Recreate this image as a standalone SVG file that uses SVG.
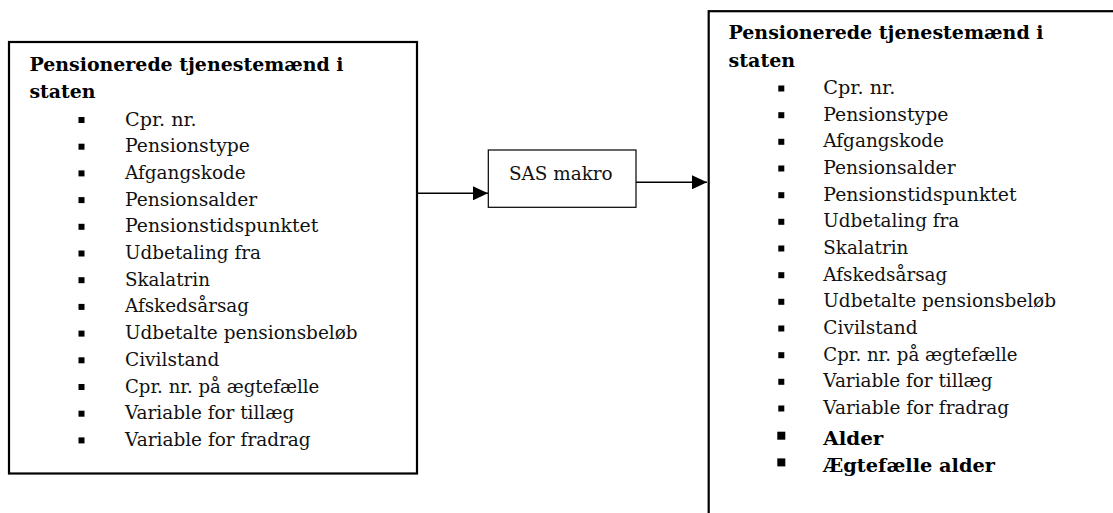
<svg xmlns="http://www.w3.org/2000/svg" width="1113" height="513" viewBox="0 0 1113 513">
<style>
.box{fill:#fff;stroke:#000;stroke-width:2.2}
.mbox{fill:#fff;stroke:#000;stroke-width:1.2}
.t{font-family:"DejaVu Serif","Liberation Serif",serif;font-size:18.5px;fill:#111}
.b{font-family:"DejaVu Serif","Liberation Serif",serif;font-size:18.5px;font-weight:bold;fill:#000}
.bl{fill:#000}
.ln{stroke:#000;stroke-width:1.6;fill:none}
</style>
<defs>
<marker id="ah" markerUnits="userSpaceOnUse" markerWidth="15" markerHeight="14" refX="15" refY="7" orient="auto">
<path d="M0,0 L15,7 L0,14 Z" fill="#000"/>
</marker>
</defs>
<rect width="1113" height="513" fill="#fff"/>
<g id="connectors">
<line class="ln" x1="418" y1="193.3" x2="488" y2="193.3" marker-end="url(#ah)"/>
<line class="ln" x1="636" y1="182.3" x2="707" y2="182.3" marker-end="url(#ah)"/>
</g>
<g id="left-box">
<rect class="box" x="9" y="42" width="408" height="431.5"/>
<text class="b" x="29.5" y="70.7" textLength="314" lengthAdjust="spacingAndGlyphs">Pensionerede tjenestemænd i</text>
<text class="b" x="29.5" y="98" textLength="66" lengthAdjust="spacingAndGlyphs">staten</text>
<g class="bl">
<rect x="78.5" y="117" width="6" height="6"/>
<rect x="78.5" y="143.7" width="6" height="6"/>
<rect x="78.5" y="170.4" width="6" height="6"/>
<rect x="78.5" y="197.1" width="6" height="6"/>
<rect x="78.5" y="223.8" width="6" height="6"/>
<rect x="78.5" y="250.5" width="6" height="6"/>
<rect x="78.5" y="277.2" width="6" height="6"/>
<rect x="78.5" y="303.9" width="6" height="6"/>
<rect x="78.5" y="330.6" width="6" height="6"/>
<rect x="78.5" y="357.3" width="6" height="6"/>
<rect x="78.5" y="384" width="6" height="6"/>
<rect x="78.5" y="410.7" width="6" height="6"/>
<rect x="78.5" y="437.4" width="6" height="6"/>
</g>
<text class="t" x="125" y="125.5" textLength="71.7" lengthAdjust="spacingAndGlyphs">Cpr. nr.</text>
<text class="t" x="125" y="152.2" textLength="125" lengthAdjust="spacingAndGlyphs">Pensionstype</text>
<text class="t" x="125" y="178.9" textLength="120.7" lengthAdjust="spacingAndGlyphs">Afgangskode</text>
<text class="t" x="125" y="205.6" textLength="132.3" lengthAdjust="spacingAndGlyphs">Pensionsalder</text>
<text class="t" x="125" y="232.3" textLength="193.3" lengthAdjust="spacingAndGlyphs">Pensionstidspunktet</text>
<text class="t" x="125" y="259" textLength="136" lengthAdjust="spacingAndGlyphs">Udbetaling fra</text>
<text class="t" x="125" y="285.7" textLength="85" lengthAdjust="spacingAndGlyphs">Skalatrin</text>
<text class="t" x="125" y="312.4" textLength="124" lengthAdjust="spacingAndGlyphs">Afskedsårsag</text>
<text class="t" x="125" y="339.1" textLength="232.7" lengthAdjust="spacingAndGlyphs">Udbetalte pensionsbeløb</text>
<text class="t" x="125" y="365.8" textLength="94.3" lengthAdjust="spacingAndGlyphs">Civilstand</text>
<text class="t" x="125" y="392.5" textLength="194.3" lengthAdjust="spacingAndGlyphs">Cpr. nr. på ægtefælle</text>
<text class="t" x="125" y="419.2" textLength="169.3" lengthAdjust="spacingAndGlyphs">Variable for tillæg</text>
<text class="t" x="125" y="445.9" textLength="185.7" lengthAdjust="spacingAndGlyphs">Variable for fradrag</text>
</g>
<g id="sas-makro">
<rect class="mbox" x="488.3" y="150" width="147.7" height="57.3"/>
<text class="t" x="509" y="180" textLength="103.7" lengthAdjust="spacingAndGlyphs">SAS makro</text>
</g>
<g id="right-box">
<rect class="box" x="708.7" y="11.2" width="520" height="620"/>
<text class="b" x="728.5" y="38.5" textLength="315" lengthAdjust="spacingAndGlyphs">Pensionerede tjenestemænd i</text>
<text class="b" x="728.5" y="66.5" textLength="66.7" lengthAdjust="spacingAndGlyphs">staten</text>
<g class="bl">
<rect x="778.3" y="85.5" width="6" height="6"/>
<rect x="778.3" y="112.2" width="6" height="6"/>
<rect x="778.3" y="138.8" width="6" height="6"/>
<rect x="778.3" y="165.5" width="6" height="6"/>
<rect x="778.3" y="192.2" width="6" height="6"/>
<rect x="778.3" y="218.8" width="6" height="6"/>
<rect x="778.3" y="245.5" width="6" height="6"/>
<rect x="778.3" y="272.2" width="6" height="6"/>
<rect x="778.3" y="298.8" width="6" height="6"/>
<rect x="778.3" y="325.5" width="6" height="6"/>
<rect x="778.3" y="352.2" width="6" height="6"/>
<rect x="778.3" y="378.8" width="6" height="6"/>
<rect x="778.3" y="405.5" width="6" height="6"/>
<rect x="777.3" y="431.7" width="8" height="8"/>
<rect x="777.3" y="458.4" width="8" height="8"/>
</g>
<text class="t" x="823.3" y="94" textLength="72" lengthAdjust="spacingAndGlyphs">Cpr. nr.</text>
<text class="t" x="823.3" y="120.7" textLength="125" lengthAdjust="spacingAndGlyphs">Pensionstype</text>
<text class="t" x="823.3" y="147.3" textLength="120.7" lengthAdjust="spacingAndGlyphs">Afgangskode</text>
<text class="t" x="823.3" y="174" textLength="132.3" lengthAdjust="spacingAndGlyphs">Pensionsalder</text>
<text class="t" x="823.3" y="200.7" textLength="193.3" lengthAdjust="spacingAndGlyphs">Pensionstidspunktet</text>
<text class="t" x="823.3" y="227.3" textLength="136" lengthAdjust="spacingAndGlyphs">Udbetaling fra</text>
<text class="t" x="823.3" y="254" textLength="85" lengthAdjust="spacingAndGlyphs">Skalatrin</text>
<text class="t" x="823.3" y="280.7" textLength="124" lengthAdjust="spacingAndGlyphs">Afskedsårsag</text>
<text class="t" x="823.3" y="307.3" textLength="232.7" lengthAdjust="spacingAndGlyphs">Udbetalte pensionsbeløb</text>
<text class="t" x="823.3" y="334" textLength="94.3" lengthAdjust="spacingAndGlyphs">Civilstand</text>
<text class="t" x="823.3" y="360.7" textLength="194.3" lengthAdjust="spacingAndGlyphs">Cpr. nr. på ægtefælle</text>
<text class="t" x="823.3" y="387.3" textLength="169.3" lengthAdjust="spacingAndGlyphs">Variable for tillæg</text>
<text class="t" x="823.3" y="414" textLength="185.7" lengthAdjust="spacingAndGlyphs">Variable for fradrag</text>
<text class="b" x="823.3" y="445" textLength="60" lengthAdjust="spacingAndGlyphs">Alder</text>
<text class="b" x="823.3" y="471.7" textLength="171.7" lengthAdjust="spacingAndGlyphs">Ægtefælle alder</text>
</g>
</svg>
